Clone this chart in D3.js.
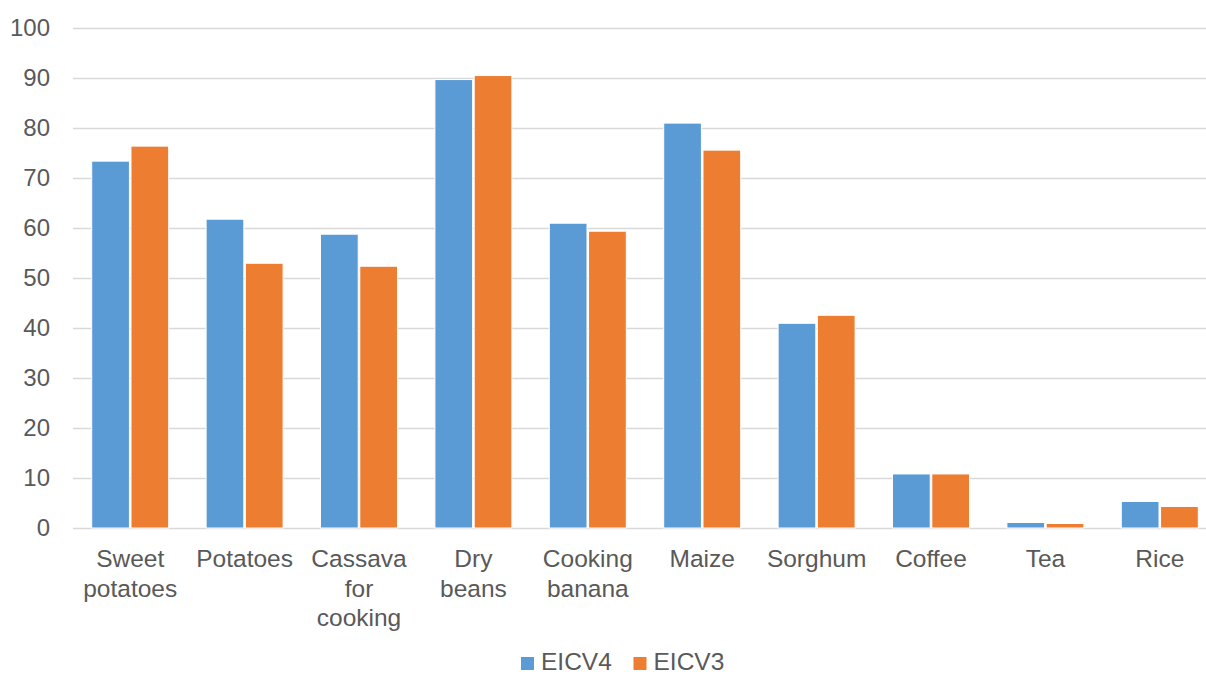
<!DOCTYPE html>
<html>
<head>
<meta charset="utf-8">
<script src="https://cdn.jsdelivr.net/npm/d3@7"></script>
<style>
  body { margin: 0; background: #fff; }
  text { font-family: "Liberation Sans", Arial, sans-serif; fill: #595959; }
</style>
</head>
<body>
<svg id="chart" width="1206" height="675"></svg>
<script>
var width = 1206,
	height = 675;

// categories (multi-line labels)
var categories = [
	["Sweet", "potatoes"],
	["Potatoes"],
	["Cassava", "for", "cooking"],
	["Dry", "beans"],
	["Cooking", "banana"],
	["Maize"],
	["Sorghum"],
	["Coffee"],
	["Tea"],
	["Rice"]
];
var seriesNames = ["EICV4", "EICV3"];
var eicv4 = [73.3, 61.7, 58.7, 89.6, 60.9, 80.9, 40.9, 10.8, 1.1, 5.3];
var eicv3 = [76.3, 52.9, 52.3, 90.4, 59.3, 75.5, 42.5, 10.8, 0.9, 4.3];
var yTicks = [0, 10, 20, 30, 40, 50, 60, 70, 80, 90, 100];

var colors = d3.scaleOrdinal().domain(seriesNames).range(["#5B9BD5", "#ED7D31"]);

var svg = d3.select("#chart");

var x0 = d3.scaleBand()
	.domain(d3.range(categories.length))
	.range([73, 1217])
	.paddingInner(0.327)
	.paddingOuter(0.1635);

var x1 = d3.scaleBand()
	.domain(seriesNames)
	.range([0, x0.bandwidth()])
	.paddingInner(0.04);

var y = d3.scaleLinear().domain([0, 100]).range([528, 27.5]);

// gridlines
svg.append("g")
	.selectAll("line")
	.data(yTicks)
	.enter()
	.append("line")
	.attr("x1", 73)
	.attr("x2", width)
	.attr("y1", function(d) { return Math.round(y(d)) + 0.5; })
	.attr("y2", function(d) { return Math.round(y(d)) + 0.5; })
	.attr("stroke", "#D9D9D9")
	.attr("stroke-width", 1.5);

// y axis labels
var yAxis = d3.axisLeft(y).tickValues(yTicks).tickSize(0).tickPadding(0);
var yg = svg.append("g")
	.attr("transform", "translate(50,0)")
	.call(yAxis);
yg.select(".domain").remove();
yg.selectAll("text")
	.attr("font-size", "24px")
	.style("font-family", "'Liberation Sans', Arial, sans-serif")
	.attr("fill", "#595959");

// bars
var rows = categories.map(function(c, i) {
	return [{ key: "EICV4", value: eicv4[i] }, { key: "EICV3", value: eicv3[i] }];
});

var groups = svg.append("g")
	.selectAll("g")
	.data(rows)
	.enter()
	.append("g")
	.attr("transform", function(d, i) { return "translate(" + x0(i) + ",0)"; });

groups.selectAll("rect")
	.data(function(d) { return d; })
	.enter()
	.append("rect")
	.attr("x", function(d) { return x1(d.key); })
	.attr("width", x1.bandwidth())
	.attr("y", function(d) { return y(d.value); })
	.attr("height", function(d) { return y(0) - y(d.value); })
	.attr("fill", function(d) { return colors(d.key); })
	.attr("stroke", "#fff")
	.attr("stroke-width", 1);

// category labels
var labels = svg.append("g")
	.selectAll("text")
	.data(categories)
	.enter()
	.append("text")
	.attr("text-anchor", "middle")
	.attr("font-size", "24.5px")
	.attr("transform", function(d, i) {
		return "translate(" + (x0(i) + x0.bandwidth() / 2) + ",567)";
	});
labels.selectAll("tspan")
	.data(function(d) { return d; })
	.enter()
	.append("tspan")
	.attr("x", 0)
	.attr("y", function(d, i) { return i * 29.5; })
	.text(function(d) { return d; });

// legend
var legendX = [521, 633.5];
var legend = svg.append("g")
	.selectAll("g")
	.data(seriesNames)
	.enter()
	.append("g")
	.attr("transform", function(d, i) { return "translate(" + legendX[i] + ",657)"; });
legend.append("rect")
	.attr("width", 13)
	.attr("height", 13)
	.attr("fill", function(d) { return colors(d); });
legend.append("text")
	.attr("x", 20)
	.attr("y", 13)
	.attr("font-size", "24.5px")
	.text(function(d) { return d; });
</script>
</body>
</html>
